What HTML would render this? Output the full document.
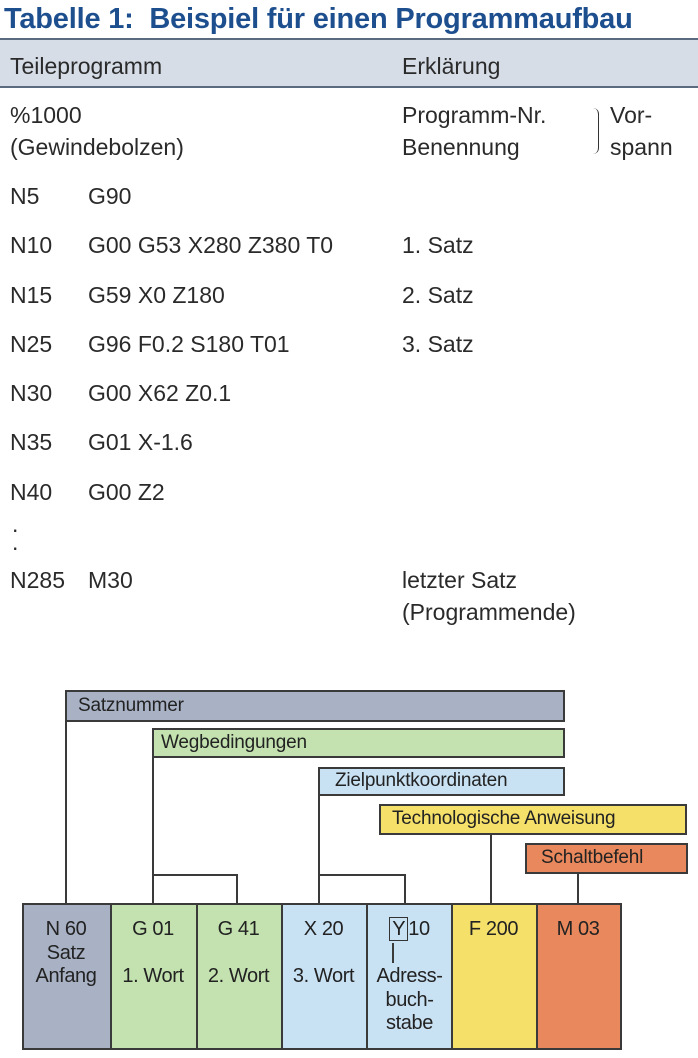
<!DOCTYPE html>
<html><head><meta charset="utf-8"><style>
body{margin:0;width:698px;height:1058px;background:#fff;position:relative;overflow:hidden;font-family:"Liberation Sans",sans-serif;color:#2a2a2a}
.t{position:absolute;font-size:23px;letter-spacing:0px;line-height:24px;white-space:nowrap}
.b{position:absolute;box-sizing:border-box;border:2px solid #3a3a3a}
.l{position:absolute;background:#3a3a3a}
.bt{position:absolute;font-size:19px;letter-spacing:-0.2px;line-height:22px;white-space:nowrap;color:#222}
.c{position:absolute;text-align:center;font-size:20px;letter-spacing:-0.4px;line-height:23.5px;color:#222}
</style></head><body>
<div class="t" style="left:4px;top:4px;font-size:29px;font-weight:bold;color:#1d4f8f;letter-spacing:-0.2px;line-height:30px">Tabelle 1:&nbsp; Beispiel für einen Programmaufbau</div>
<div style="position:absolute;left:0;top:38px;width:698px;height:50px;background:#d6dde7;border-top:2px solid #5a6b80;border-bottom:2px solid #5a6b80;box-sizing:border-box"></div>
<div class="t" style="left:10px;top:54px">Teileprogramm</div>
<div class="t" style="left:402px;top:54px">Erklärung</div>

<div class="t" style="left:10px;top:103px">%1000</div>
<div class="t" style="left:10px;top:135px">(Gewindebolzen)</div>
<div class="t" style="left:402px;top:103px">Programm-Nr.</div>
<div class="t" style="left:402px;top:135px">Benennung</div>
<div style="position:absolute;left:592px;top:108px;width:6px;height:18px;border-right:1.5px solid #333;border-top-right-radius:6px"></div>
<div style="position:absolute;left:592px;top:126px;width:6px;height:28px;border-right:1.5px solid #333;border-bottom-right-radius:6px"></div>
<div class="t" style="left:610px;top:103px">Vor-</div>
<div class="t" style="left:610px;top:135px">spann</div>

<div class="t" style="left:10px;top:184px">N5</div><div class="t" style="left:88px;top:184px">G90</div>
<div class="t" style="left:10px;top:233px">N10</div><div class="t" style="left:88px;top:233px">G00 G53 X280 Z380 T0</div><div class="t" style="left:402px;top:233px">1. Satz</div>
<div class="t" style="left:10px;top:283px">N15</div><div class="t" style="left:88px;top:283px">G59 X0 Z180</div><div class="t" style="left:402px;top:283px">2. Satz</div>
<div class="t" style="left:10px;top:332px">N25</div><div class="t" style="left:88px;top:332px">G96 F0.2 S180 T01</div><div class="t" style="left:402px;top:332px">3. Satz</div>
<div class="t" style="left:10px;top:381px">N30</div><div class="t" style="left:88px;top:381px">G00 X62 Z0.1</div>
<div class="t" style="left:10px;top:430px">N35</div><div class="t" style="left:88px;top:430px">G01 X-1.6</div>
<div class="t" style="left:10px;top:480px">N40</div><div class="t" style="left:88px;top:480px">G00 Z2</div>
<div class="t" style="left:12px;top:515px;line-height:18px">.<br>.</div>
<div class="t" style="left:10px;top:568px">N285</div><div class="t" style="left:88px;top:568px">M30</div>
<div class="t" style="left:402px;top:568px">letzter Satz</div>
<div class="t" style="left:402px;top:600px">(Programmende)</div>

<div class="b" style="left:65px;top:690px;width:500px;height:32px;background:#a9b2c5"></div>
<div class="bt" style="left:78px;top:695px">Satznummer</div>
<div class="b" style="left:152px;top:728px;width:413px;height:30px;background:#c3e2b0"></div>
<div class="bt" style="left:161px;top:732px">Wegbedingungen</div>
<div class="b" style="left:318px;top:767px;width:247px;height:29px;background:#c9e2f3"></div>
<div class="bt" style="left:335px;top:770px">Zielpunktkoordinaten</div>
<div class="b" style="left:379px;top:804px;width:308px;height:31px;background:#f5e06a"></div>
<div class="bt" style="left:392px;top:808px">Technologische Anweisung</div>
<div class="b" style="left:525px;top:843px;width:163px;height:31px;background:#e8885c"></div>
<div class="bt" style="left:541px;top:847px">Schaltbefehl</div>

<div class="l" style="left:65px;top:722px;width:2px;height:182px"></div>
<div class="l" style="left:152px;top:757px;width:2px;height:147px"></div>
<div class="l" style="left:152px;top:874px;width:86px;height:2px"></div>
<div class="l" style="left:236px;top:874px;width:2px;height:30px"></div>
<div class="l" style="left:318px;top:795px;width:2px;height:109px"></div>
<div class="l" style="left:318px;top:874px;width:88px;height:2px"></div>
<div class="l" style="left:404px;top:874px;width:2px;height:30px"></div>
<div class="l" style="left:490px;top:834px;width:2px;height:70px"></div>
<div class="l" style="left:577px;top:873px;width:2px;height:31px"></div>

<div class="b" style="left:22px;top:903px;width:90px;height:147px;background:#a9b2c5"></div>
<div class="b" style="left:110px;top:903px;width:88px;height:147px;background:#c3e2b0"></div>
<div class="b" style="left:196px;top:903px;width:87px;height:147px;background:#c3e2b0"></div>
<div class="b" style="left:281px;top:903px;width:87px;height:147px;background:#c9e2f3"></div>
<div class="b" style="left:366px;top:903px;width:87px;height:147px;background:#c9e2f3"></div>
<div class="b" style="left:451px;top:903px;width:87px;height:147px;background:#f5e06a"></div>
<div class="b" style="left:536px;top:903px;width:86px;height:147px;background:#e8885c"></div>

<div class="c" style="left:22px;top:918px;width:88px">N 60<br>Satz<br>Anfang</div>
<div class="c" style="left:110px;top:918px;width:86px">G 01<br><br>1. Wort</div>
<div class="c" style="left:196px;top:918px;width:85px">G 41<br><br>2. Wort</div>
<div class="c" style="left:281px;top:918px;width:85px">X 20<br><br>3. Wort</div>
<div class="c" style="left:366px;top:918px;width:87px"><span style="border:1.5px solid #333;padding:0 2px">Y</span>10<br><br>Adress-<br>buch-<br>stabe</div>
<div class="l" style="left:392px;top:943px;width:1.5px;height:20px"></div>
<div class="c" style="left:451px;top:918px;width:85px">F 200</div>
<div class="c" style="left:536px;top:918px;width:84px">M 03</div>
</body></html>
